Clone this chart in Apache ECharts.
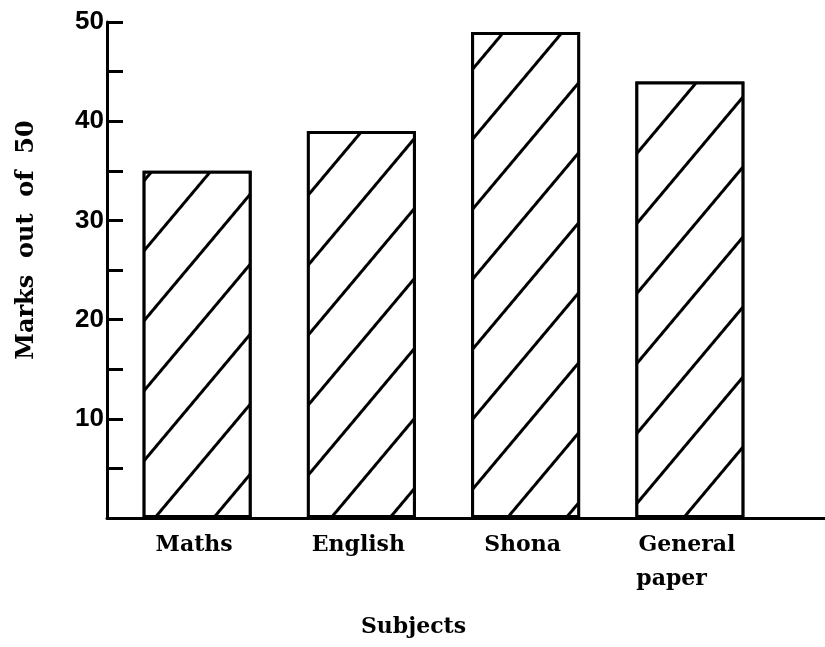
<!DOCTYPE html>
<html>
<head>
<meta charset="utf-8">
<script src="https://cdn.jsdelivr.net/npm/echarts@6/dist/echarts.min.js"></script>
<style>
html,body{margin:0;padding:0;background:#fff;}
#chart{width:825px;height:647px;}
</style>
</head>
<body>
<div id="chart"></div>
<script>
const subjects = ['Maths', 'English', 'Shona', 'General\npaper    '];
const marks = [35, 39, 49, 44];
const yLabelValues = [10, 20, 30, 40, 50];
const yName = 'Marks  out  of  50';
const xName = 'Subjects';

const chart = echarts.init(document.getElementById('chart'));
const serif = 'DejaVu Serif';
chart.setOption({
  backgroundColor: '#ffffff',
  animation: false,
  grid: [
    { left: 115, right: 53, top: 22, bottom: 129 },
    { left: 107, right: 0, top: 22, bottom: 129 }
  ],
  xAxis: [
    {
      type: 'category',
      gridIndex: 0,
      data: subjects,
      axisLine: { show: false },
      axisTick: { show: false },
      axisLabel: {
        color: '#000', fontFamily: serif, fontWeight: 'bold', fontSize: 22,
        lineHeight: 34, margin: 10, padding: [0, 6, 0, 0]
      },
      name: xName,
      nameLocation: 'middle',
      nameGap: 98,
      nameTextStyle: {
        color: '#000', fontFamily: serif, fontWeight: 'bold', fontSize: 22,
        padding: [0, 60, 0, 0]
      }
    },
    {
      type: 'value',
      gridIndex: 1,
      axisLine: { show: true, onZero: false, lineStyle: { color: '#000', width: 3 } },
      axisTick: { show: false },
      axisLabel: { show: false },
      splitLine: { show: false }
    }
  ],
  yAxis: [
    {
      type: 'value',
      gridIndex: 0,
      min: 0,
      max: 50,
      interval: 5,
      offset: 8,
      axisLine: { show: true, lineStyle: { color: '#000', width: 3 } },
      axisTick: { show: true, inside: true, length: 16, lineStyle: { color: '#000', width: 3 } },
      splitLine: { show: false },
      axisLabel: {
        color: '#000', fontFamily: 'Liberation Sans', fontWeight: 'bold', fontSize: 26,
        margin: 3,
        formatter: v => (yLabelValues.indexOf(v) >= 0 ? String(v) : '')
      },
      name: yName,
      nameLocation: 'middle',
      nameRotate: 90,
      nameGap: 68,
      nameTextStyle: {
        color: '#000', fontFamily: serif, fontWeight: 'bold', fontSize: 24,
        padding: [0, 0, 0, 60]
      }
    },
    {
      type: 'value',
      gridIndex: 1,
      show: false
    }
  ],
  series: [
    {
      type: 'bar',
      xAxisIndex: 0,
      yAxisIndex: 0,
      data: marks,
      barWidth: 109,
      itemStyle: {
        color: '#ffffff',
        borderColor: '#000',
        borderWidth: 3,
        decal: {
          symbol: 'rect',
          color: '#000',
          backgroundColor: '#ffffff',
          dashArrayX: [1, 0],
          dashArrayY: [3, 42],
          rotation: -50 * Math.PI / 180,
          symbolSize: 1
        }
      }
    }
  ]
});
</script>
</body>
</html>
